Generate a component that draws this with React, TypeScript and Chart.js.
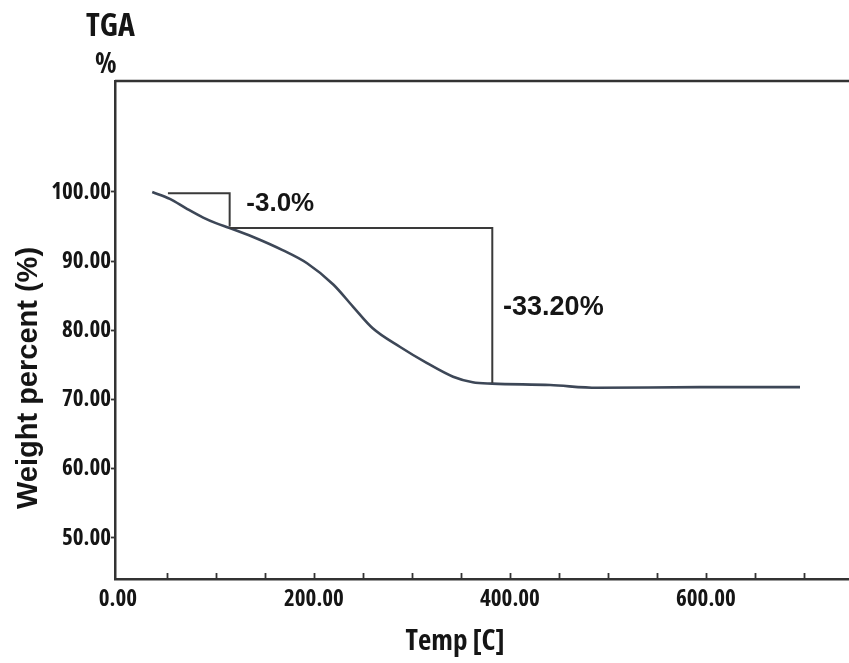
import React, { useEffect, useRef } from 'react';
import { Chart, registerables } from 'chart.js';

Chart.register(...registerables);

// TGA curve (temperature °C, weight %)
const temps = [35, 53, 70, 87, 100, 114, 138, 168, 193, 220, 240, 260, 288, 315, 342, 362, 382, 441, 489, 594, 696];
const weights = [100.0, 99.0, 97.6, 96.3, 95.5, 94.8, 93.5, 91.6, 89.7, 86.6, 83.4, 80.3, 77.6, 75.3, 73.3, 72.5, 72.3, 72.1, 71.7, 71.8, 71.8];

// Step markers of the two mass losses
const step1Temps = [51, 114, 114];
const step1Weights = [99.8, 99.8, 95.0];
const step2Temps = [114, 382, 382];
const step2Weights = [94.8, 94.8, 72.4];

// Loss labels
const lossLabels = ['-3.0%', '-33.20%'];
const lossLabelTemps = [131, 393];
const lossLabelWeights = [98.3, 83.3];

// Axis ticks
const xTicks = [0, 50, 100, 150, 200, 250, 300, 350, 400, 450, 500, 550, 600, 650, 700];
const xLabelTicks = [0, 200, 400, 600];
const yTicks = [50, 60, 70, 80, 90, 100];

const X_MIN = -3;
const X_MAX = 746;
const Y_MIN = 44.07;
const Y_MAX = 116.04;

const SANS = '"Liberation Sans", Arial, Helvetica, sans-serif';
const NARROW = '"Open Sans", "Liberation Sans", sans-serif';
const INK = '#151515';
const AXIS = '#333333';

const decorPlugin = {
  id: 'tgaDecor',
  afterDraw(chart: any) {
    const { ctx, chartArea, scales } = chart;
    const xs = scales.x;
    const ys = scales.y;
    ctx.save();
    // top frame line
    ctx.strokeStyle = AXIS;
    ctx.lineWidth = 2.5;
    ctx.beginPath();
    ctx.moveTo(chartArea.left, chartArea.top);
    ctx.lineTo(chartArea.right, chartArea.top);
    ctx.stroke();
    // inward x ticks
    ctx.lineWidth = 1.8;
    for (const v of xTicks) {
      if (v === 0) continue;
      const px = Math.round(xs.getPixelForValue(v)) + 0.5;
      ctx.beginPath();
      ctx.moveTo(px, chartArea.bottom);
      ctx.lineTo(px, chartArea.bottom - 6);
      ctx.stroke();
    }
    // loss labels
    ctx.fillStyle = INK;
    ctx.textBaseline = 'middle';
    ctx.textAlign = 'left';
    lossLabels.forEach((t, i) => {
      ctx.font = `bold ${i === 0 ? 26 : 27}px ${SANS}`;
      ctx.fillText(t, xs.getPixelForValue(lossLabelTemps[i]), ys.getPixelForValue(lossLabelWeights[i]));
    });
    // top-left header
    ctx.textBaseline = 'alphabetic';
    ctx.font = `bold condensed 32px ${NARROW}`;
    ctx.fillText('TGA', 86, 36);
    ctx.font = `bold condensed 28px ${NARROW}`;
    ctx.fillText('%', 95, 73);
    // x title
    ctx.textAlign = 'center';
    ctx.font = `bold condensed 29px ${NARROW}`;
    ctx.fillText('Temp [C]', 455, 650);
    // y title
    ctx.translate(29, 378);
    ctx.rotate(-Math.PI / 2);
    ctx.textBaseline = 'middle';
    ctx.font = `bold 29px ${SANS}`;
    ctx.fillText('Weight percent (%)', 0, 0);
    ctx.restore();
  },
};

export default function App() {
  const ref = useRef<HTMLCanvasElement | null>(null);

  useEffect(() => {
    document.body.style.margin = '0';
    document.body.style.background = '#ffffff';
    const canvas = ref.current;
    if (!canvas) return;
    const curve = temps.map((t, i) => ({ x: t, y: weights[i] }));
    const s1 = step1Temps.map((t, i) => ({ x: t, y: step1Weights[i] }));
    const s2 = step2Temps.map((t, i) => ({ x: t, y: step2Weights[i] }));

    const chart = new Chart(canvas, {
      type: 'scatter',
      data: {
        datasets: [
          {
            data: s1,
            showLine: true,
            borderColor: '#3a3a3a',
            borderWidth: 2,
            pointRadius: 0,
            tension: 0,
          },
          {
            data: s2,
            showLine: true,
            borderColor: '#3a3a3a',
            borderWidth: 2,
            pointRadius: 0,
            tension: 0,
          },
          {
            data: curve,
            showLine: true,
            borderColor: '#3d4757',
            borderWidth: 2.6,
            pointRadius: 0,
            cubicInterpolationMode: 'monotone',
          },
        ],
      },
      options: {
        responsive: false,
        animation: false,
        layout: { padding: { top: 81, left: 0, right: 0, bottom: 0 } },
        plugins: { legend: { display: false }, tooltip: { enabled: false } },
        scales: {
          x: {
            type: 'linear',
            min: X_MIN,
            max: X_MAX,
            afterBuildTicks: (s: any) => {
              s.ticks = xTicks.map((v) => ({ value: v }));
            },
            afterFit: (s: any) => {
              s.height = 84;
            },
            grid: { display: false, drawTicks: false },
            border: { display: true, color: AXIS, width: 2.5 },
            ticks: {
              autoSkip: false,
              maxRotation: 0,
              minRotation: 0,
              padding: 7,
              color: INK,
              font: { family: NARROW, size: 23, weight: 'bold condensed', lineHeight: 1.2 },
              callback: (v: any) => (xLabelTicks.includes(Number(v)) ? Number(v).toFixed(2) : ''),
            },
          },
          y: {
            type: 'linear',
            min: Y_MIN,
            max: Y_MAX,
            afterBuildTicks: (s: any) => {
              s.ticks = yTicks.map((v) => ({ value: v }));
            },
            afterFit: (s: any) => {
              s.width = 115;
            },
            grid: {
              display: true,
              drawOnChartArea: false,
              drawTicks: true,
              tickLength: 4,
              tickColor: AXIS,
              tickWidth: 1.8,
            },
            border: { display: true, color: AXIS, width: 2.5 },
            ticks: {
              autoSkip: false,
              padding: 0,
              color: INK,
              font: { family: NARROW, size: 23, weight: 'bold condensed' },
              callback: (v: any) => Number(v).toFixed(2),
            },
          },
        },
      },
      plugins: [decorPlugin],
    } as any);

    return () => chart.destroy();
  }, []);

  return (
    <div style={{ position: 'absolute', left: 0, top: 0, width: 849, height: 663, background: '#fff' }}>
      <canvas ref={ref} width={849} height={663} style={{ display: 'block', width: 849, height: 663 }} />
    </div>
  );
}
